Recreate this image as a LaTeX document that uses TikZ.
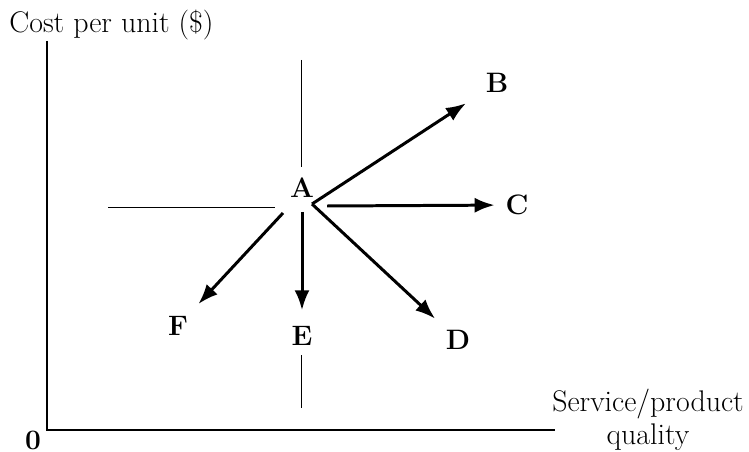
\documentclass[tikz,border=0pt]{standalone}
\usetikzlibrary{arrows.meta}

\begin{document}
\begin{tikzpicture}[
            x=0.02cm,
            y=-0.02cm,
            axis/.style={line width=1.5pt},
            guide/.style={line width=0.5pt},
            move/.style={
                line width=1.7pt,
                -{Latex[length=4mm,width=3mm]}
            },
            point/.style={
                inner sep=1pt,
                font=\fontsize{16}{18}\selectfont\bfseries
            },
            axislabel/.style={
                inner sep=0pt,
                align=center,
                font=\fontsize{17}{18.5}\selectfont
            }
        ]
        \useasboundingbox (0,0) rectangle (749,452);

        % Ejes
        \coordinate (orig) at (47,430);
        \coordinate (ytop) at (47,41);
        \coordinate (xend) at (555,430);
        \draw[axis] (ytop) -- (orig) -- (xend);

        \node[axislabel, anchor=west] (ylab) at (9,25) {Cost per unit (\$)};
        \node[axislabel] (xlab) at (648,420) {Service/product\\quality};
        \node[point] (zero) at (33,440) {0};

        % Posiciones
        \node[point] (A) at (302,188) {A};
        \node[point] (B) at (497,83)  {B};
        \node[point] (C) at (517,205) {C};
        \node[point] (D) at (458,340) {D};
        \node[point] (E) at (302,336) {E};
        \node[point] (F) at (178,326) {F};

        % Guias
        \coordinate (vtop) at (301,60);
        \coordinate (vtop2) at (301,167);
        \coordinate (vbot) at (301,408);
        \coordinate (vbot2) at (301,355);
        \coordinate (hleft) at (108,207);
        \coordinate (hright) at (275,207);
        \draw[guide] (vtop) -- (vtop2);
        \draw[guide] (vbot2) -- (vbot);
        \draw[guide] (hleft) -- (hright);

        % Movimientos
        \coordinate (o) at (312,204);
        \coordinate (oc) at (327,206);
        \coordinate (oe) at (302,212);
        \coordinate (of) at (283,213);
        \draw[move, shorten >=12pt] (o) -- (B);
        \draw[move, shorten >=5pt] (oc) -- (C);
        \draw[move, shorten >=8pt] (o) -- (D);
        \draw[move, shorten >=8pt] (oe) -- (E);
        \draw[move, shorten >=8pt] (of) -- (F);

        \end{tikzpicture}
\end{document}
